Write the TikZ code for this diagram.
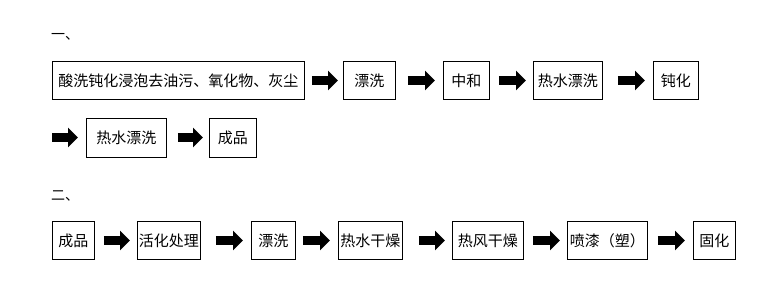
\documentclass[tikz,border=0pt]{standalone}
\usepackage{fontspec}
\setmainfont{Noto Sans CJK SC}
\usetikzlibrary{arrows.meta}
\tikzset{
  x=1pt,y=-1pt,
  box/.style={draw=black,line width=0.9pt,inner sep=0pt,minimum height=38pt,font=\fontsize{15}{16}\selectfont,anchor=west},
  blk/.style={line width=9pt,-{Triangle[length=10pt,width=19pt]}},
  lbl/.style={font=\fontsize{14}{15}\selectfont,inner sep=0pt,anchor=west}
}
\begin{document}
\begin{tikzpicture}
\useasboundingbox[fill=white] (0,0) rectangle (780,285);
\node[lbl] (h1) at (51,37) {一、};
\node[lbl] (h2) at (51,196) {二、};
% row 1
\node[box,minimum width=252pt] (b1) at (52,80.5) {酸洗钝化浸泡去油污、氧化物、灰尘};
\node[box,minimum width=52pt] (b2) at (343,80.5) {漂洗};
\node[box,minimum width=46pt] (b3) at (443,80.5) {中和};
\node[box,minimum width=69pt] (b4) at (533,80.5) {热水漂洗};
\node[box,minimum width=45pt] (b5) at (653,80.5) {钝化};
% row 2
\coordinate (s2) at (52,137.5);
\node[box,minimum width=80pt,minimum height=39pt] (b6) at (86,137.5) {热水漂洗};
\node[box,minimum width=47pt,minimum height=39pt] (b7) at (209,137.5) {成品};
% row 3
\node[box,minimum width=42pt] (c1) at (52,240.5) {成品};
\node[box,minimum width=63pt] (c2) at (137,240.5) {活化处理};
\node[box,minimum width=44pt] (c3) at (251,240.5) {漂洗};
\node[box,minimum width=64pt] (c4) at (338,240.5) {热水干燥};
\node[box,minimum width=71pt] (c5) at (452,240.5) {热风干燥};
\node[box,minimum width=80pt] (c6) at (567,240.5) {喷漆（塑）};
\node[box,minimum width=42pt] (c7) at (693,240.5) {固化};
% arrows
\draw[blk,shorten <=7pt,shorten >=5pt] (b1) -- (b2);
\draw[blk,shorten <=12pt,shorten >=8pt] (b2) -- (b3);
\draw[blk,shorten <=9pt,shorten >=7pt] (b3) -- (b4);
\draw[blk,shorten <=15pt,shorten >=8pt] (b4) -- (b5);
\draw[blk,shorten >=8pt] (s2) -- (b6);
\draw[blk,shorten <=11pt,shorten >=6pt] (b6) -- (b7);
\draw[blk,shorten <=9pt,shorten >=7pt] (c1) -- (c2);
\draw[blk,shorten <=15pt,shorten >=8pt] (c2) -- (c3);
\draw[blk,shorten <=7pt,shorten >=8pt] (c3) -- (c4);
\draw[blk,shorten <=16pt,shorten >=7pt] (c4) -- (c5);
\draw[blk,shorten <=9pt,shorten >=7pt] (c5) -- (c6);
\draw[blk,shorten <=10pt,shorten >=8pt] (c6) -- (c7);
\end{tikzpicture}
\end{document}
